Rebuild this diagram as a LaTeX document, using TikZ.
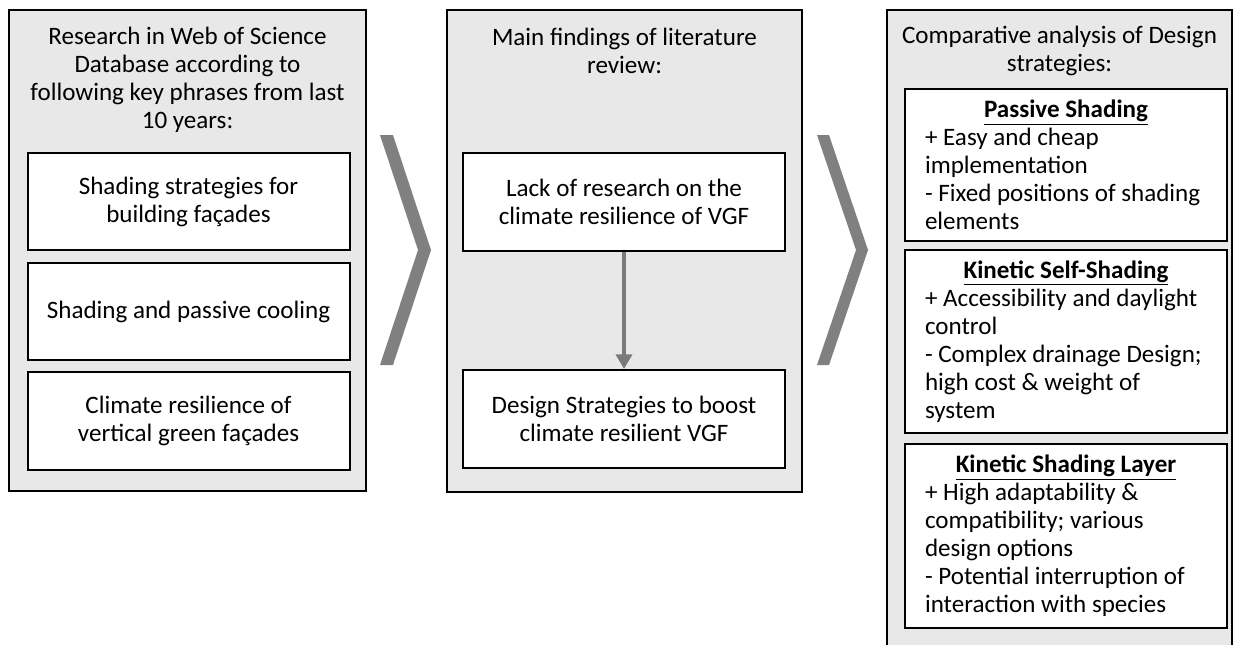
\documentclass[tikz,border=0pt]{standalone}
\usepackage{fontspec}
\setmainfont{Carlito}
\usetikzlibrary{positioning,arrows.meta}
\begin{document}
\begin{tikzpicture}[x=0.75pt, y=-0.75pt, font=\fontsize{18.8}{21}\selectfont,
  panel/.style={draw=black, line width=1.5pt, fill=black!9, inner sep=0pt},
  itembox/.style={draw=black, line width=1.5pt, fill=white, align=center, inner sep=0pt, minimum width=241.5pt},
  headtext/.style={align=center, inner sep=0pt},
  prosbox/.style={itembox, align=flush left, text width=211.5pt},
  chevron/.style={fill=black!50, draw=none},
  flow/.style={-{Triangle[width=12pt, length=11pt]}, line width=3pt, draw=black!52, fill=black!52}]
\useasboundingbox (0,0) rectangle (1234,644);
\node[panel, minimum width=267.75pt, minimum height=360.75pt] (research) at (187.5, 250.5) {};
\node[panel, minimum width=266.25pt, minimum height=361.5pt] (findings) at (624.5, 251) {};
\node[panel, minimum width=258.75pt, minimum height=477pt] (compare) at (1059.5, 328) {};
\node[headtext] (researchhead) at (187.5, 79.5) {Research in Web of Science\\Database according to\\following key phrases from last\\10 years:};
\node[headtext] (findingshead) at (624.5, 51) {Main findings of literature\\review:};
\node[headtext] (comparehead) at (1059.5, 51) {Comparative analysis of Design\\strategies:};
\node[itembox, minimum height=72.75pt] (shade) at (188.5, 201.5) {Shading strategies for\\building façades};
\node[itembox, minimum height=72.75pt] (cool) at (188.5, 311.5) {Shading and passive cooling};
\node[itembox, minimum height=73.5pt] (resil) at (188.5, 421) {Climate resilience of\\vertical green façades};
\node[itembox, minimum height=73.5pt] (lack) at (624, 202) {Lack of research on the\\climate resilience of VGF};
\node[itembox, minimum height=73.5pt] (strat) at (624, 419) {Design Strategies to boost\\climate resilient VGF};
\node[prosbox, minimum height=114pt] (passive) at (1066, 165) {\makebox[\linewidth][c]{\underline{\textbf{Passive Shading}}}\\+ Easy and cheap\\implementation\\- Fixed positions of shading\\elements};
\node[prosbox, minimum height=137.25pt] (selfshade) at (1066, 341.5) {\makebox[\linewidth][c]{\underline{\textbf{Kinetic Self-Shading}}}\\+ Accessibility and daylight\\control\\- Complex drainage Design;\\high cost \& weight of\\system};
\node[prosbox, minimum height=138pt] (layer) at (1066, 536) {\makebox[\linewidth][c]{\underline{\textbf{Kinetic Shading Layer}}}\\+ High adaptability \&\\compatibility; various\\design options\\- Potential interruption of\\interaction with species};
\fill[chevron] (380,135) -- (393,135) -- (431,250) -- (393,365) -- (380,365) -- (418,250) -- cycle;
\fill[chevron] (817,135) -- (829,135) -- (868,250) -- (829,365) -- (817,365) -- (856,250) -- cycle;
\draw[flow] (lack) -- (strat);
\end{tikzpicture}
\end{document}
